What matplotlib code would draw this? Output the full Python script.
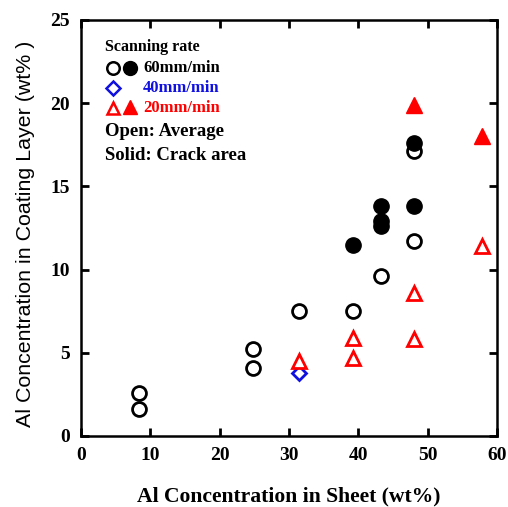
import matplotlib
matplotlib.use('Agg')
import matplotlib.pyplot as plt

plt.rcParams['font.family'] = ['Liberation Serif', 'DejaVu Serif']

# 60 mm/min, open = average, solid = crack area
x_60_open = [8.4, 8.4, 24.8, 24.8, 31.5, 39.2, 43.3, 48.0, 48.0]
y_60_open = [2.6, 1.6, 5.2, 4.1, 7.5, 7.5, 9.6, 11.7, 17.1]
x_60_solid = [39.2, 43.3, 43.3, 43.3, 48.0, 48.0]
y_60_solid = [11.5, 13.8, 12.6, 12.9, 17.6, 13.8]

# 40 mm/min
x_40_open = [31.5]
y_40_open = [3.8]

# 20 mm/min
x_20_open = [31.5, 39.2, 39.2, 48.0, 48.0, 57.9]
y_20_open = [4.5, 5.9, 4.7, 8.6, 5.8, 11.4]
x_20_solid = [48.0, 57.9]
y_20_solid = [19.9, 18.0]

fig = plt.figure(figsize=(5.08, 5.07), dpi=100)
ax = fig.add_axes([81 / 508, 1 - 436 / 507, 416 / 508, 416 / 507])

ms = 10
ax.plot(x_60_open, y_60_open, 'o', ms=ms, mfc='white', mec='black', mew=2)
ax.plot(x_60_solid, y_60_solid, 'o', ms=ms + 1, mfc='black', mec='black', mew=1)
ax.plot(x_40_open, y_40_open, 'D', ms=7.5, mfc='white', mec='#1010e0', mew=2)
ax.plot(x_20_open, y_20_open, '^', ms=ms, mfc='white', mec='red', mew=2)
ax.plot(x_20_solid, y_20_solid, '^', ms=ms + 1, mfc='red', mec='red', mew=1)

ax.set_xlim(0, 60)
ax.set_ylim(0, 25)
ax.set_xticks(range(0, 61, 10))
ax.set_yticks(range(0, 26, 5))
ax.tick_params(direction='in', length=6, width=2, top=True, right=True,
               labelsize=14, pad=8)
for lab in ax.get_xticklabels() + ax.get_yticklabels():
    lab.set_fontweight('bold')
for sp in ax.spines.values():
    sp.set_linewidth(1.8)

ax.set_xlabel('Al Concentration in Sheet (wt%)', fontsize=15.6, fontweight='bold', labelpad=16)
ax.set_ylabel('Al Concentration in Coating Layer (wt% )', fontsize=15.4,
              family=['Liberation Sans', 'DejaVu Sans'])
ax.yaxis.set_label_coords(-0.11, 0.487)

# hand-made legend
def px(x, y):
    return (x - 81) / 416, (436 - y) / 416

t = dict(transform=ax.transAxes, va='center', ha='left', fontweight='bold')
ax.text(*px(105, 47), 'Scanning rate', fontsize=11.5, **t)
ax.plot(*px(113, 68), 'o', ms=9, mfc='white', mec='black', mew=1.8, transform=ax.transAxes)
ax.plot(*px(130, 68), 'o', ms=10, mfc='black', mec='black', transform=ax.transAxes)
ax.text(*px(143, 68), '60mm/min', fontsize=12, **t)
ax.plot(*px(113, 88), 'D', ms=7, mfc='white', mec='#1010e0', mew=1.8, transform=ax.transAxes)
ax.text(*px(143, 88), '40mm/min', fontsize=12, color='#1010e0', **t)
ax.plot(*px(113, 108), '^', ms=9, mfc='white', mec='red', mew=1.8, transform=ax.transAxes)
ax.plot(*px(130, 107), '^', ms=10, mfc='red', mec='red', transform=ax.transAxes)
ax.text(*px(143, 108), '20mm/min', fontsize=12, color='red', **t)
ax.text(*px(105, 131), 'Open: Average', fontsize=13.5, **t)
ax.text(*px(105, 155), 'Solid: Crack area', fontsize=13.5, **t)

plt.savefig('out.png', dpi=100)
plt.close()
